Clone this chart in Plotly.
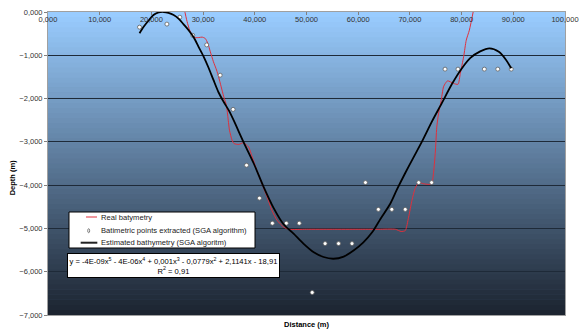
import plotly.graph_objects as go

# ---- data ----
real_x = [26.3, 26.9, 27.4, 27.9, 28.5, 29.2, 29.8, 30.4, 30.9, 31.4, 32.0, 32.6, 33.0,
          33.5, 34.0, 34.5, 34.75, 35.1, 35.6, 36.0, 36.9, 37.8, 38.8, 39.5, 40.4, 41.4,
          42.4, 43.3, 44.3, 45.6, 46.6, 50.0, 55.0, 60.0, 64.0, 67.2, 68.3, 69.1, 69.75,
          70.4, 71.0, 71.7, 72.7, 73.9, 74.3, 74.9, 75.2, 75.55, 76.0, 76.5, 76.85, 77.3,
          78.45, 79.3, 79.75, 80.4, 80.9, 81.5, 82.4]
real_y = [0.10, -0.22, -0.42, -0.53, -0.59, -0.59, -0.58, -0.61, -0.72, -0.92, -1.15,
          -1.34, -1.50, -1.73, -1.96, -2.15, -2.38, -2.73, -2.96, -3.04, -3.06, -3.02,
          -3.12, -3.35, -3.66, -3.97, -4.28, -4.58, -4.81, -4.97, -5.02, -5.02, -5.02,
          -5.02, -5.02, -5.02, -5.07, -5.05, -4.74, -4.35, -4.08, -3.94, -3.97, -3.98,
          -3.93, -3.27, -2.66, -2.34, -2.08, -1.73, -1.65, -1.59, -1.65, -1.67, -1.42,
          -1.03, -0.65, -0.42, 0.10]

pts_x = [17.7, 23.0, 25.5, 28.0, 30.7, 33.3, 35.8, 38.4, 40.9, 43.4, 46.1, 48.6, 51.1,
         53.6, 56.2, 58.8, 61.4, 63.9, 66.5, 69.1, 71.7, 74.2, 76.8, 79.3, 84.4, 87.0, 89.6]
pts_y = [-0.35, -0.28, -0.12, -0.54, -0.76, -1.46, -2.25, -3.54, -4.30, -4.88, -4.88,
         -4.88, -6.48, -5.35, -5.35, -5.35, -3.94, -4.56, -4.56, -4.56, -3.94, -3.94,
         -1.32, -1.32, -1.32, -1.32, -1.32]

est_x = [17.7, 18.5, 19.5, 20.4, 21.4, 22.4, 23.3, 24.3, 25.3, 26.2, 27.2, 28.2, 29.1,
         30.1, 31.1, 32.0, 33.0, 34.0, 35.0, 35.9, 37.8, 39.8, 41.7, 43.6, 45.6, 47.5,
         49.4, 51.4, 53.3, 55.2, 57.2, 59.1, 61.0, 62.7, 64.3, 66.2, 67.5, 69.1, 70.6,
         72.3, 74.3, 76.2, 78.1, 80.0, 81.7, 83.6, 85.4, 87.2, 88.5, 89.6]
est_y = [-0.49, -0.34, -0.19, -0.07, -0.01, 0.00, -0.02, -0.07, -0.16, -0.28, -0.42,
         -0.59, -0.80, -1.03, -1.30, -1.57, -1.86, -2.08, -2.28, -2.50, -3.00, -3.50,
         -4.04, -4.52, -4.91, -5.12, -5.35, -5.55, -5.66, -5.70, -5.65, -5.51, -5.32,
         -5.09, -4.78, -4.43, -4.10, -3.72, -3.38, -3.00, -2.52, -2.10, -1.67, -1.31,
         -1.06, -0.91, -0.84, -0.92, -1.09, -1.30]

series_names = ["Real batymetry",
                "Batimetric points extracted (SGA algorithm)",
                "Estimated bathymetry (SGA algoritm)"]

equation = ("y = -4E-09x<sup>5</sup> - 4E-06x<sup>4</sup> + 0,001x<sup>3</sup> - "
            "0,0779x<sup>2</sup> + 2,1141x - 18,91<br>R<sup>2</sup> = 0,91")

FONT = "Liberation Sans, Arial, sans-serif"
RED = "#E0303C"

fig = go.Figure()
fig.add_trace(go.Scatter(x=real_x, y=real_y, mode="lines", name=series_names[0],
                         line=dict(color=RED, width=1, shape="spline", smoothing=0.6)))
fig.add_trace(go.Scatter(x=pts_x, y=pts_y, mode="markers", name=series_names[1],
                         marker=dict(symbol="circle", size=4, color="white",
                                     line=dict(color="#606060", width=0.8))))
fig.add_trace(go.Scatter(x=est_x, y=est_y, mode="lines", name=series_names[2],
                         line=dict(color="black", width=1.8, shape="spline", smoothing=0.8)))

# gradient background
top = (153, 204, 255)
bot = (28, 36, 48)
n = 60
shapes = []
for i in range(n):
    t = i / (n - 1)
    c = tuple(int(round(bot[k] + (top[k] - bot[k]) * t)) for k in range(3))
    shapes.append(dict(type="rect", xref="x domain", yref="y domain",
                       x0=0, x1=1, y0=i / n, y1=(i + 1) / n + 0.002,
                       line=dict(width=0), fillcolor="rgb(%d,%d,%d)" % c, layer="below"))

# hand-drawn legend box (paper coordinates)
shapes.append(dict(type="rect", xref="paper", yref="paper", x0=0.0406, x1=0.4004,
                   y0=0.2211, y1=0.3399, line=dict(color="black", width=1),
                   fillcolor="white", layer="above"))
row_y = [0.3234, 0.2782, 0.2386]
shapes.append(dict(type="line", xref="paper", yref="paper", x0=0.0735, x1=0.0948,
                   y0=row_y[0], y1=row_y[0], line=dict(color=RED, width=1), layer="above"))
shapes.append(dict(type="circle", xref="paper", yref="paper", x0=0.0768, x1=0.0806,
                   y0=row_y[1] - 0.0066, y1=row_y[1] + 0.0066,
                   line=dict(color="#606060", width=0.8), fillcolor="white", layer="above"))
shapes.append(dict(type="line", xref="paper", yref="paper", x0=0.0632, x1=0.0954,
                   y0=row_y[2], y1=row_y[2], line=dict(color="#222222", width=2), layer="above"))

annotations = [
    dict(text="<b>Distance (m)</b>", xref="paper", yref="paper", x=0.5, y=-0.033,
         xanchor="center", yanchor="middle", showarrow=False,
         font=dict(family=FONT, size=7.5, color="black")),
    dict(text="<b>Depth (m)</b>", xref="paper", yref="paper", x=-0.069, y=0.452,
         xanchor="center", yanchor="middle", textangle=-90, showarrow=False,
         font=dict(family=FONT, size=7.5, color="black")),
    dict(text=equation, xref="paper", yref="paper", x=0.2426, y=0.162,
         xanchor="center", yanchor="middle", showarrow=False, align="center",
         bgcolor="white", bordercolor="black", borderwidth=1, borderpad=1.5,
         font=dict(family=FONT, size=7.6, color="black")),
]
for name, yy in zip(series_names, row_y):
    annotations.append(dict(text=name, xref="paper", yref="paper", x=0.0986, y=yy,
                            xanchor="left", yanchor="middle", showarrow=False,
                            font=dict(family=FONT, size=7.6, color="#222222")))

fig.update_layout(
    width=579, height=335,
    margin=dict(l=48, r=14, t=12, b=20, autoexpand=False),
    paper_bgcolor="white", plot_bgcolor="rgb(90,120,150)",
    separators=",.",
    font=dict(family=FONT, size=7.5, color="#333333"),
    shapes=shapes,
    annotations=annotations,
    showlegend=False,
    hovermode=False,
    xaxis=dict(range=[0, 100], dtick=10, tickformat=".3f", side="top",
               ticklabelposition="inside", ticklabeloverflow="allow",
               tickfont=dict(family=FONT, size=7.5, color="#333333"),
               ticks="inside", ticklen=3, tickcolor="#808080", automargin=False,
               showgrid=False, zeroline=False, showline=True, linecolor="#A0A0A0",
               mirror=True, linewidth=1),
    yaxis=dict(range=[-7, 0], dtick=1, tickformat=".3f", automargin=False,
               tickfont=dict(family=FONT, size=7.5, color="#333333"),
               ticks="outside", ticklen=3, tickcolor="#808080",
               showgrid=True, gridcolor="#1E2A38", gridwidth=1,
               zeroline=False, showline=True, linecolor="#A0A0A0", mirror=True,
               linewidth=1),
)

fig.write_html("out.html",
               config={"displayModeBar": False},
               post_script="document.body.style.margin='0px';"
                           "document.body.style.overflow='hidden';")
